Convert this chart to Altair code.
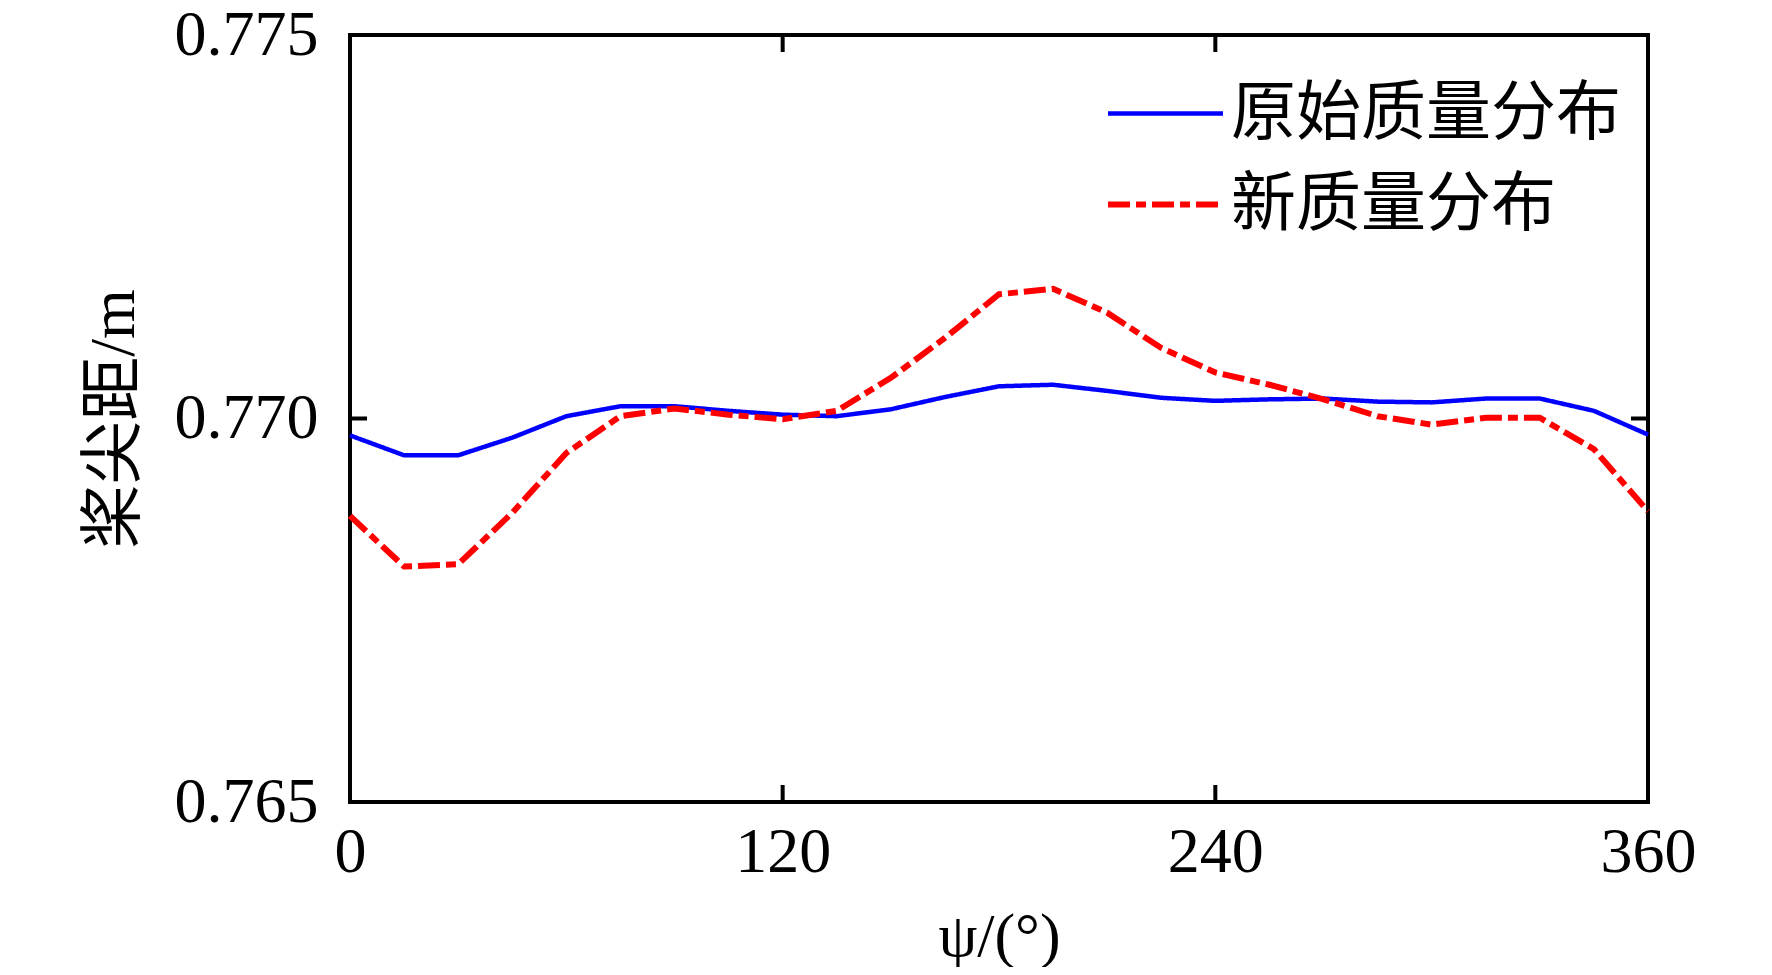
import altair as alt
import pandas as pd

# ---- data ----
psi = [0, 15, 30, 45, 60, 75, 90, 105, 120, 135, 150, 165, 180,
       195, 210, 225, 240, 255, 270, 285, 300, 315, 330, 345, 360]
orig = [0.76978, 0.76952, 0.76952, 0.76975, 0.77003, 0.77016, 0.77016,
        0.77010, 0.77005, 0.77003, 0.77012, 0.77028, 0.77042, 0.77044,
        0.77036, 0.77027, 0.77023, 0.77025, 0.77026, 0.77022, 0.77021,
        0.77026, 0.77026, 0.77010, 0.76979]
new = [0.76873, 0.76807, 0.76810, 0.76877, 0.76955, 0.77003, 0.77013,
       0.77005, 0.76999, 0.77010, 0.77053, 0.77105, 0.77162, 0.77169,
       0.77138, 0.77092, 0.77060, 0.77044, 0.77025, 0.77003, 0.76992,
       0.77001, 0.77001, 0.76960, 0.76879]
series_names = ["原始质量分布", "新质量分布"]
x_ticks = [0, 120, 240, 360]
y_ticks = [0.765, 0.770, 0.775]
x_inner = [120, 240]
y_inner = [0.770]

W, H = 1298, 767
TICK = 17
FONT = "Liberation Serif, Noto Sans CJK SC"

df = pd.DataFrame({
    "psi": psi + psi,
    "d": orig + new,
    "series": [series_names[0]] * len(psi) + [series_names[1]] * len(psi),
})

legend = alt.Legend(
    title=None, orient="none", legendX=755, legendY=46, padding=0,
    symbolType="stroke", symbolSize=13225, clipHeight=65,
    labelFont=FONT, labelFontSize=65, labelColor="black", labelLimit=600,
    labelOffset=5, rowPadding=25,
)

lines = alt.Chart(df).mark_line().encode(
    x=alt.X("psi:Q", scale=alt.Scale(domain=[0, 360], nice=False),
            axis=alt.Axis(values=x_ticks, title="ψ/(°)", labelPadding=18,
                          labelFlush=False, titlePadding=22)),
    y=alt.Y("d:Q", scale=alt.Scale(domain=[0.765, 0.775], nice=False, zero=False),
            axis=alt.Axis(values=y_ticks, format=".3f", title="桨尖距/m",
                          labelPadding=32, titlePadding=28, titleFontSize=64)),
    color=alt.Color("series:N", scale=alt.Scale(domain=series_names,
                    range=["#0000ff", "#ff0000"]), legend=legend),
    strokeDash=alt.StrokeDash("series:N", scale=alt.Scale(domain=series_names,
                              range=[[1, 0], [22, 6, 10, 6]]), legend=legend),
    strokeWidth=alt.StrokeWidth("series:N", scale=alt.Scale(domain=series_names,
                                range=[4.5, 6]), legend=legend),
)

xt = pd.DataFrame({"psi": x_inner})
yt = pd.DataFrame({"d": y_inner})
rule_style = dict(color="black", strokeWidth=4)
bottom_ticks = alt.Chart(xt).mark_rule(**rule_style).encode(
    x="psi:Q", y=alt.value(H), y2=alt.value(H - TICK))
top_ticks = alt.Chart(xt).mark_rule(**rule_style).encode(
    x="psi:Q", y=alt.value(0), y2=alt.value(TICK))
left_ticks = alt.Chart(yt).mark_rule(**rule_style).encode(
    y="d:Q", x=alt.value(0), x2=alt.value(TICK))
right_ticks = alt.Chart(yt).mark_rule(**rule_style).encode(
    y="d:Q", x=alt.value(W), x2=alt.value(W - TICK))

chart = alt.layer(lines, bottom_ticks, top_ticks, left_ticks, right_ticks).properties(
    width=W, height=H,
    padding={"left": 342, "top": 27, "right": 100, "bottom": 165},
    autosize=alt.AutoSizeParams(type="none"),
).configure_view(
    stroke="black", strokeWidth=4
).configure_axis(
    domain=False, ticks=False, tickSize=0, grid=False,
    labelFont=FONT, labelFontSize=64, labelColor="black",
    titleFont=FONT, titleFontSize=62, titleFontWeight="normal", titleColor="black",
)

chart.save("out.html", embed_options={"renderer": "svg", "actions": False})
